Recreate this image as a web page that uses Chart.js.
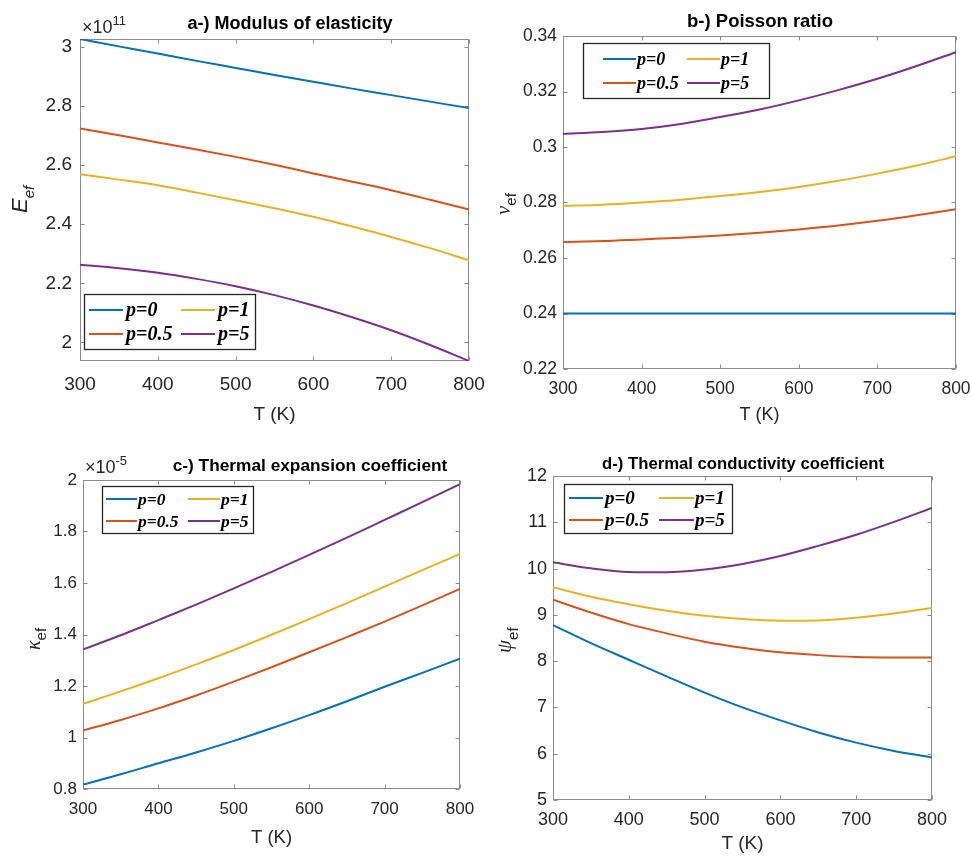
<!DOCTYPE html>
<html>
<head>
<meta charset="utf-8">
<script src="https://cdn.jsdelivr.net/npm/chart.js@4.4.1/dist/chart.umd.min.js"></script>
<style>
  body { margin: 0; background: #fff; width: 971px; height: 857px; overflow: hidden; position: relative; }
  canvas { position: absolute; }
</style>
</head>
<body>
<canvas id="panelA" width="490" height="430" style="left:0;top:0"></canvas>
<canvas id="panelB" width="481" height="430" style="left:490px;top:0"></canvas>
<canvas id="panelC" width="490" height="427" style="left:0;top:430px"></canvas>
<canvas id="panelD" width="481" height="427" style="left:490px;top:430px"></canvas>
<script>
const temperature = [300, 350, 400, 450, 500, 550, 600, 650, 700, 750, 800];
const seriesLabels = ['p=0', 'p=0.5', 'p=1', 'p=5'];
const seriesColors = ['#0072BD', '#D95319', '#EDB120', '#7E2F8E'];
const xTicks = [300, 400, 500, 600, 700, 800];

// a-) modulus of elasticity, in units of 1e11
const modulusP0  = [3.027, 3.002, 2.978, 2.953, 2.929, 2.905, 2.882, 2.859, 2.837, 2.815, 2.793];
const modulusP05 = [2.724, 2.701, 2.677, 2.653, 2.628, 2.601, 2.572, 2.544, 2.515, 2.483, 2.450];
const modulusP1  = [2.569, 2.551, 2.532, 2.507, 2.481, 2.454, 2.425, 2.392, 2.357, 2.319, 2.278];
const modulusP5  = [2.263, 2.251, 2.236, 2.215, 2.190, 2.160, 2.125, 2.085, 2.041, 1.991, 1.937];
const modulusTicks = [2, 2.2, 2.4, 2.6, 2.8, 3];

// b-) poisson ratio
const poissonP0  = [0.24, 0.24, 0.24, 0.24, 0.24, 0.24, 0.24, 0.24, 0.24, 0.24, 0.24];
const poissonP05 = [0.2658, 0.2661, 0.2667, 0.2673, 0.2681, 0.2691, 0.2703, 0.2717, 0.2734, 0.2754, 0.2776];
const poissonP1  = [0.2788, 0.2792, 0.2800, 0.2810, 0.2823, 0.2838, 0.2856, 0.2878, 0.2904, 0.2933, 0.2967];
const poissonP5  = [0.3047, 0.3054, 0.3065, 0.3083, 0.3108, 0.3135, 0.3168, 0.3205, 0.3246, 0.3292, 0.3342];
const poissonTicks = [0.22, 0.24, 0.26, 0.28, 0.3, 0.32, 0.34];

// c-) thermal expansion, in units of 1e-5
const expansionP0  = [0.817, 0.857, 0.900, 0.942, 0.987, 1.036, 1.087, 1.141, 1.197, 1.251, 1.306];
const expansionP05 = [1.027, 1.068, 1.113, 1.163, 1.217, 1.273, 1.331, 1.390, 1.450, 1.513, 1.577];
const expansionP1  = [1.131, 1.179, 1.230, 1.284, 1.340, 1.399, 1.460, 1.522, 1.586, 1.650, 1.713];
const expansionP5  = [1.342, 1.397, 1.456, 1.516, 1.579, 1.643, 1.709, 1.776, 1.845, 1.914, 1.984];
const expansionTicks = [0.8, 1, 1.2, 1.4, 1.6, 1.8, 2];

// d-) thermal conductivity
const conductP0  = [8.78, 8.39, 8.03, 7.67, 7.32, 7.00, 6.72, 6.46, 6.24, 6.06, 5.92];
const conductP05 = [9.33, 9.05, 8.80, 8.60, 8.42, 8.29, 8.19, 8.13, 8.09, 8.08, 8.08];
const conductP1  = [9.595, 9.39, 9.23, 9.09, 8.98, 8.91, 8.875, 8.88, 8.94, 9.03, 9.15];
const conductP5  = [10.135, 10.006, 9.927, 9.92, 9.98, 10.10, 10.27, 10.49, 10.73, 11.01, 11.31];
const conductTicks = [5, 6, 7, 8, 9, 10, 11, 12];

const sans = "'Liberation Sans', Arial, Helvetica, sans-serif";
const serif = "'Liberation Serif', 'Times New Roman', serif";
const ink = '#262626';

function decorPlugin(cfg) {
  return {
    id: 'decor',
    beforeDatasetsDraw(chart) {
      const ctx = chart.ctx;
      const a = chart.chartArea;
      const l = Math.round(a.left) + 0.5, t = Math.round(a.top) + 0.5;
      const r = Math.round(a.right) - 0.5, b = Math.round(a.bottom) - 0.5;
      ctx.save();
      ctx.strokeStyle = '#8c8c8c';
      ctx.lineWidth = 1;
      ctx.strokeRect(l, t, r - l, b - t);
      ctx.beginPath();
      const tick = 4;
      chart.scales.x.ticks.forEach(tk => {
        const px = Math.round(chart.scales.x.getPixelForValue(tk.value)) + 0.5;
        ctx.moveTo(px, b); ctx.lineTo(px, b - tick);
        ctx.moveTo(px, t); ctx.lineTo(px, t + tick);
      });
      chart.scales.y.ticks.forEach(tk => {
        const py = Math.round(chart.scales.y.getPixelForValue(tk.value)) + 0.5;
        ctx.moveTo(l, py); ctx.lineTo(l + tick, py);
        ctx.moveTo(r, py); ctx.lineTo(r - tick, py);
      });
      ctx.stroke();
      ctx.restore();
    },
    afterDraw(chart) {
      const ctx = chart.ctx;
      ctx.save();
      ctx.fillStyle = '#000';
      // title
      ctx.font = 'bold ' + cfg.title.size + 'px ' + sans;
      ctx.textAlign = 'center';
      ctx.textBaseline = 'alphabetic';
      ctx.fillText(cfg.title.text, cfg.title.x, cfg.title.y);

      ctx.fillStyle = ink;
      ctx.textAlign = 'left';
      // exponent
      if (cfg.exponent) {
        const e = cfg.exponent;
        ctx.font = e.size + 'px ' + sans;
        ctx.fillText('\u00d710', e.x, e.y);
        const w = ctx.measureText('\u00d710').width;
        ctx.font = Math.round(e.size * 0.72) + 'px ' + sans;
        ctx.fillText(e.power, e.x + w, e.y - e.size * 0.45);
      }

      // y label, rotated
      const yl = cfg.ylabel;
      ctx.save();
      ctx.translate(yl.x, yl.y);
      ctx.rotate(-Math.PI / 2);
      ctx.font = yl.mainFont;
      ctx.fillText(yl.main, 0, 0);
      const mw = ctx.measureText(yl.main).width;
      ctx.font = yl.subFont;
      ctx.fillText('ef', mw + (yl.gap || 0), yl.drop);
      ctx.restore();

      // legend
      const lg = cfg.legend;
      ctx.fillStyle = '#fff';
      ctx.fillRect(lg.box[0], lg.box[1], lg.box[2] - lg.box[0], lg.box[3] - lg.box[1]);
      ctx.strokeStyle = ink;
      ctx.lineWidth = 1.3;
      ctx.strokeRect(lg.box[0] + 0.5, lg.box[1] + 0.5, lg.box[2] - lg.box[0], lg.box[3] - lg.box[1]);
      ctx.font = 'bold italic ' + lg.size + 'px ' + serif;
      ctx.textAlign = 'left';
      ctx.textBaseline = 'middle';
      chart.data.datasets.forEach((ds, i) => {
        const col = lg.cols[Math.floor(i / 2)];
        const y = lg.rows[i % 2];
        ctx.strokeStyle = ds.borderColor;
        ctx.lineWidth = 2;
        ctx.beginPath();
        ctx.moveTo(col[0], y); ctx.lineTo(col[1], y);
        ctx.stroke();
        ctx.fillStyle = '#000';
        ctx.fillText(ds.label, col[2], y + 1);
      });
      ctx.restore();
    }
  };
}

function makePanel(id, cfg) {
  const canvas = document.getElementById(id);
  const W = canvas.width, H = canvas.height;
  const area = cfg.area;
  const datasets = cfg.series.map((vals, i) => ({
    label: seriesLabels[i],
    data: vals.map((v, k) => ({ x: temperature[k], y: v })),
    borderColor: seriesColors[i],
    backgroundColor: seriesColors[i],
    borderWidth: 2,
    pointRadius: 0,
    fill: false,
    cubicInterpolationMode: 'monotone'
  }));
  const fmt = v => String(+Number(v).toFixed(3));
  new Chart(canvas, {
    type: 'line',
    data: { datasets },
    options: {
      responsive: false,
      animation: false,
      events: [],
      layout: { padding: { left: 0, top: area[1], right: W - area[2], bottom: 0 } },
      plugins: { legend: { display: false }, title: { display: false }, tooltip: { enabled: false } },
      scales: {
        x: {
          type: 'linear', min: 300, max: 800,
          afterBuildTicks: s => { s.ticks = xTicks.map(v => ({ value: v })); },
          afterFit: s => { s.height = H - area[3]; s.paddingLeft = 0; s.paddingRight = 0; },
          grid: { display: false, drawTicks: false },
          border: { display: false },
          ticks: { font: { family: sans, size: cfg.tickSize }, color: ink, padding: cfg.xTickPad, maxRotation: 0, autoSkip: false, callback: fmt },
          title: { display: true, text: 'T (K)', font: { family: sans, size: cfg.xTitleSize }, color: ink, padding: { top: 0, bottom: cfg.xTitlePad } }
        },
        y: {
          type: 'linear', min: cfg.yMin, max: cfg.yMax,
          afterBuildTicks: s => { s.ticks = cfg.yTicks.map(v => ({ value: v })); },
          afterFit: s => { s.width = area[0]; s.paddingTop = 0; s.paddingBottom = 0; },
          grid: { display: false, drawTicks: false },
          border: { display: false },
          ticks: { font: { family: sans, size: cfg.tickSize }, color: ink, padding: cfg.yTickPad, autoSkip: false, callback: fmt }
        }
      }
    },
    plugins: [decorPlugin(cfg)]
  });
}

makePanel('panelA', {
  area: [80, 39, 469, 361],
  series: [modulusP0, modulusP05, modulusP1, modulusP5],
  yMin: 1.937, yMax: 3.027, yTicks: modulusTicks,
  tickSize: 19, xTickPad: 12, yTickPad: 8, xTitleSize: 19, xTitlePad: 4,
  title: { text: 'a-) Modulus of elasticity', size: 18, x: 290, y: 29 },
  exponent: { x: 82, y: 33, size: 18, power: '11' },
  ylabel: { x: 27, y: 213, main: 'E', mainFont: 'italic 22px ' + sans, subFont: 'italic 15px ' + sans, drop: 7 },
  legend: { box: [84, 294, 255, 349], cols: [[89, 123, 126], [181, 215, 218]], rows: [310, 334], size: 20 }
});

makePanel('panelB', {
  area: [73, 36, 466, 369],
  series: [poissonP0, poissonP05, poissonP1, poissonP5],
  yMin: 0.22, yMax: 0.34, yTicks: poissonTicks,
  tickSize: 17.5, xTickPad: 10, yTickPad: 6, xTitleSize: 18, xTitlePad: 4,
  title: { text: 'b-) Poisson ratio', size: 18.5, x: 270, y: 27 },
  ylabel: { x: 20, y: 215, main: '\u03bd', mainFont: 'italic 21px ' + serif, subFont: '15px ' + sans, drop: 6 },
  legend: { box: [93, 43, 279, 98], cols: [[113, 146, 147], [197, 230, 231]], rows: [59, 83], size: 18 }
});

makePanel('panelC', {
  area: [83, 50, 460, 359],
  series: [expansionP0, expansionP05, expansionP1, expansionP5],
  yMin: 0.8, yMax: 2, yTicks: expansionTicks,
  tickSize: 17, xTickPad: 10, yTickPad: 6, xTitleSize: 18.5, xTitlePad: 8,
  title: { text: 'c-) Thermal expansion coefficient', size: 17.3, x: 310, y: 41 },
  exponent: { x: 85, y: 43, size: 18, power: '-5' },
  ylabel: { x: 40, y: 220, main: '\u03ba', mainFont: 'italic 20px ' + serif, subFont: '15px ' + sans, drop: 6 },
  legend: { box: [102, 56, 253, 103], cols: [[106, 137, 138], [188, 220, 221]], rows: [69, 91], size: 17.5 }
});

makePanel('panelD', {
  area: [63, 46, 442, 370],
  series: [conductP0, conductP05, conductP1, conductP5],
  yMin: 5, yMax: 12, yTicks: conductTicks,
  tickSize: 18, xTickPad: 9, yTickPad: 6, xTitleSize: 19, xTitlePad: 2,
  title: { text: 'd-) Thermal conductivity coefficient', size: 16.7, x: 253, y: 39 },
  ylabel: { x: 21, y: 223, main: '\u03c8', mainFont: 'italic 21px ' + serif, subFont: '15px ' + sans, drop: 7 },
  legend: { box: [74, 54, 242, 103], cols: [[79, 113, 115], [169, 204, 205]], rows: [68, 90], size: 19 }
});
</script>
</body>
</html>
